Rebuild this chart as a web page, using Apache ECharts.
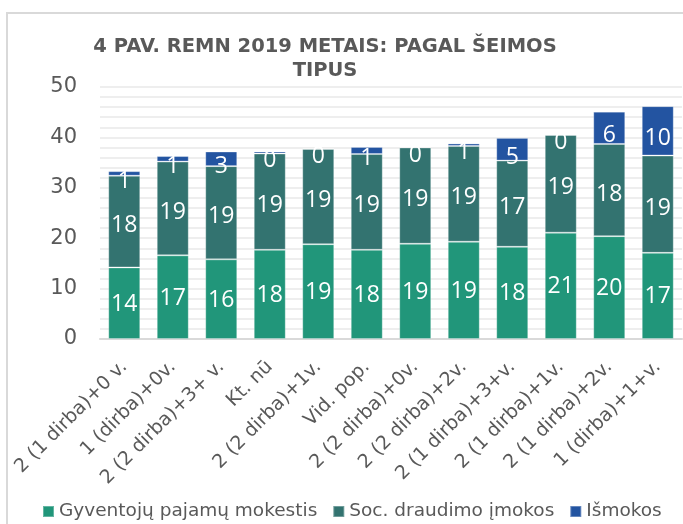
<!DOCTYPE html>
<html>
<head>
<meta charset="utf-8">
<script src="https://cdn.jsdelivr.net/npm/echarts@6/dist/echarts.min.js"></script>
<style>
  html, body { margin: 0; padding: 0; background: #fff; }
  #chart { width: 683px; height: 524px; }
</style>
</head>
<body>
<div id="chart"></div>
<script>
var categories = ['2 (1 dirba)+0 v.', '1 (dirba)+0v.', '2 (2 dirba)+3+ v.', 'Kt. nū', '2 (2 dirba)+1v.', 'Vid. pop.',
    '2 (2 dirba)+0v.', '2 (2 dirba)+2v.', '2 (1 dirba)+3+v.', '2 (1 dirba)+1v.', '2 (1 dirba)+2v.', '1 (dirba)+1+v.'];
var seriesNames = ['Gyventojų pajamų mokestis', 'Soc. draudimo įmokos', 'Išmokos'];
var pajamuMokestis = [14.2, 16.6, 15.8, 17.7, 18.8, 17.7, 18.9, 19.3, 18.3, 21.1, 20.4, 17.1];
var socDraudimas = [18.2, 18.6, 18.5, 19.1, 18.9, 19.0, 19.1, 19.0, 17.1, 19.4, 18.3, 19.3];
var ismokos = [0.9, 1.1, 2.9, 0.4, 0.2, 1.4, 0.2, 0.5, 4.5, 0.1, 6.4, 9.8];

var colors = ['#21967A', '#337370', '#2354A1'];
var font = 'DejaVu Sans';

function barSeries(name, data, color, dy){
    return {
        name: name,
        type: 'bar',
        stack: 'total',
        barWidth: 32,
        data: data,
        itemStyle: { color: color, borderColor: 'rgba(255,255,255,0.3)', borderWidth: 1 },
        label: {
            show: true,
            position: 'inside',
            offset: [0, dy],
            color: '#fff',
            fontFamily: 'Open Sans',
            fontSize: 23,
            formatter: function (p) { return Math.round(p.value); }
        }
    };
}

var myChart = echarts.init(document.getElementById('chart'));
var option = {
    animation: false,
    graphic: [{
        type: 'rect',
        shape: { x: 7, y: 13, width: 720, height: 560 },
        style: { fill: 'none', stroke: '#d9d9d9', lineWidth: 2 },
        silent: true
    }],
    title: {
        text: '4 PAV. REMN 2019 METAIS: PAGAL ŠEIMOS\nTIPUS',
        left: 320,
        top: 30,
        textAlign: 'center',
        textStyle: {
            color: '#595959',
            fontFamily: font,
            fontWeight: 'bold',
            fontSize: 19.5,
            lineHeight: 24
        }
    },
    legend: {
        left: 37,
        top: 497,
        itemWidth: 11,
        itemHeight: 11,
        itemGap: 15,
        icon: 'rect',
        textStyle: { color: '#595959', fontFamily: font, fontSize: 18.5 },
        data: seriesNames
    },
    grid: { left: 100, right: 1, top: 87, bottom: 185 },
    xAxis: {
        type: 'category',
        data: categories,
        axisLine: { lineStyle: { color: '#d9d9d9', width: 2 } },
        axisTick: { show: false },
        axisLabel: {
            interval: 0,
            rotate: 45,
            margin: 25,
            color: '#595959',
            fontFamily: font,
            fontSize: 19
        }
    },
    yAxis: {
        type: 'value',
        min: 0,
        max: 50,
        interval: 2,
        axisLine: { show: false },
        axisTick: { show: false },
        splitLine: { lineStyle: { color: '#eeeeee', width: 2 } },
        axisLabel: {
            margin: 23,
            color: '#595959',
            fontFamily: font,
            fontSize: 21,
            formatter: function (v) { return v % 10 === 0 ? v : ''; }
        }
    },
    series: [
        barSeries(seriesNames[0], pajamuMokestis, colors[0], 1),
        barSeries(seriesNames[1], socDraudimas, colors[1], 4),
        barSeries(seriesNames[2], ismokos, colors[2], 8)
    ]
};
myChart.setOption(option);
</script>
</body>
</html>
